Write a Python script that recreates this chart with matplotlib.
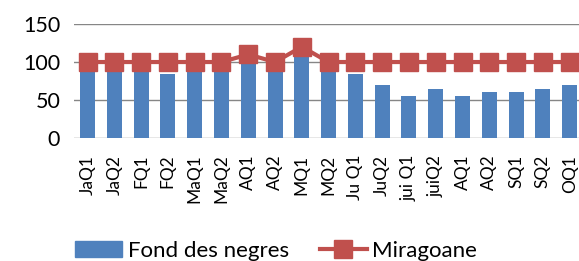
import matplotlib.pyplot as plt
from matplotlib.lines import Line2D
from matplotlib.patches import Patch

labels = ["JaQ1", "JaQ2", "FQ1", "FQ2", "MaQ1", "MaQ2", "AQ1", "AQ2", "MQ1",
          "MQ2", "Ju Q1", "JuQ2", "jui Q1", "juiQ2", "AQ1", "AQ2", "SQ1", "SQ2", "OQ1"]
fond = [87, 87, 87, 84, 87, 87, 100, 87, 110, 87, 84, 70, 55, 65, 55, 60, 60, 65, 70]
mira = [100, 100, 100, 100, 100, 100, 110, 100, 120, 100, 100, 100, 100, 100, 100, 100, 100, 100, 100]

plt.rcParams['font.family'] = ['Lato', 'DejaVu Sans']

fig = plt.figure(figsize=(5.79, 2.61), dpi=100)
ax = fig.add_axes([0.128, 0.471, 0.879, 0.437])

x = list(range(len(fond)))
ax.bar(x, fond, width=0.56, color='#4F81BD', zorder=2)
ax.plot(x, mira, color='#C0504D', lw=3, marker='s', markersize=13, zorder=3)

ax.set_ylim(0, 150)
ax.set_yticks([0, 50, 100, 150])
ax.set_xlim(-0.5, len(fond) - 0.5)
ax.set_xticks(x)
ax.set_xticklabels(labels, rotation=90, fontsize=12.5)
ax.tick_params(axis='y', labelsize=15.5, length=0, pad=10)
ax.tick_params(axis='x', length=0, pad=12)
ax.yaxis.grid(True, color='#868686', lw=1, zorder=0)
for s in ax.spines.values():
    s.set_visible(False)

handles = [Patch(color='#4F81BD'),
           Line2D([], [], color='#C0504D', lw=3, marker='s', markersize=13)]
fig.legend(handles, ["Fond des negres", "Miragoane"], loc='center', bbox_to_anchor=(0.477, 0.04),
           ncol=2, frameon=False, fontsize=16, handlelength=2.1, columnspacing=1.4, handletextpad=0.25)

fig.savefig("out.png", dpi=100)
